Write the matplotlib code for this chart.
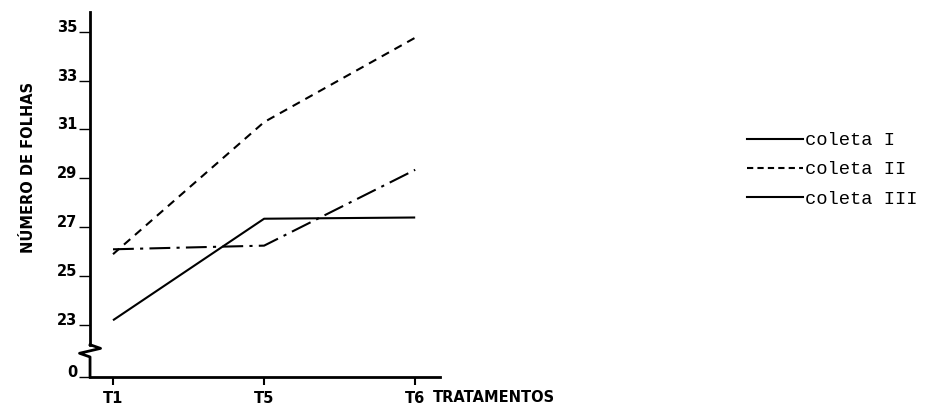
import matplotlib
matplotlib.use("Agg")
import matplotlib.pyplot as plt
from matplotlib.lines import Line2D

# Dados
tratamentos = ["T1", "T5", "T6"]
coleta_1 = [23.2, 27.35, 27.4]
coleta_2 = [25.9, 31.3, 34.75]
coleta_3 = [26.1, 26.25, 29.35]
series_labels = ["coleta I", "coleta II", "coleta III"]
y_ticks = [23, 25, 27, 29, 31, 33, 35]

# posição do "0" abaixo da quebra do eixo
zero_pos = 20.88

fig = plt.figure(figsize=(9.34, 4.07), dpi=100)
ax = fig.add_axes([0.0964, 0.0737, 0.375, 0.8968])

x = list(range(len(tratamentos)))
lw = 1.5
ax.plot(x, coleta_1, color="black", lw=lw, solid_capstyle="butt")
ax.plot(x, coleta_2, color="black", lw=lw, linestyle=(0, (4, 3)))
ax.plot(x, coleta_3, color="black", lw=lw, linestyle=(0, (10, 3, 1.5, 3)))

ax.set_xlim(-0.152, 2.166)
ax.set_ylim(zero_pos, 35.8)

ax.set_xticks(x)
ax.set_xticklabels(tratamentos, fontsize=10.5, fontweight="bold")
ax.set_yticks([zero_pos] + y_ticks)
ax.set_yticklabels(["0"] + [str(v) for v in y_ticks], fontsize=10.5, fontweight="bold")
for lab in ax.get_yticklabels():
    lab.set_va("baseline")
ax.tick_params(axis="x", length=6, width=1.5, pad=4)
ax.tick_params(axis="y", length=8, width=1.0, pad=1)

for side in ["top", "right", "left"]:
    ax.spines[side].set_visible(False)
ax.spines["bottom"].set_linewidth(2)

# eixo y com quebra (zigzag)
trans = ax.get_yaxis_transform()
y_hi = 22.2
y_lo = 21.8
ax.plot([0, 0], [y_hi, 35.8], transform=trans, color="black", lw=2, clip_on=False)
ax.plot([0, 0, -0.03, 0.03, 0, 0], [zero_pos, y_lo - 0.1, y_lo + 0.05, y_lo + 0.25, y_hi, y_hi],
        transform=trans, color="black", lw=2, clip_on=False)

ax.set_ylabel("NÚMERO DE FOLHAS", fontsize=10.5, fontweight="bold")
ax.yaxis.set_label_coords(-0.155, 0.575)
fig.text(433 / 934, 1 - 398 / 407, "TRATAMENTOS", fontsize=10.5, fontweight="bold",
         va="center", ha="left")

handles = [
    Line2D([], [], color="black", lw=lw),
    Line2D([], [], color="black", lw=lw, linestyle=(0, (3, 2))),
    Line2D([], [], color="black", lw=lw),
]
fig.legend(handles, series_labels, loc="upper left", bbox_to_anchor=(747 / 934, 1 - 132 / 407),
           frameon=False, handlelength=3.0, handletextpad=0.1, labelspacing=0.65,
           borderpad=0, borderaxespad=0, prop={"family": "Liberation Mono", "size": 13.5})

fig.savefig("out.png", dpi=100)
